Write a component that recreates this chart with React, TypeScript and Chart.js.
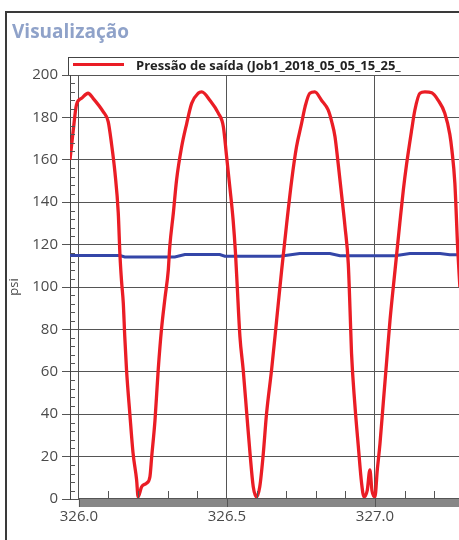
import React, { useEffect, useRef } from "react";
import { Chart, registerables } from "chart.js";

Chart.register(...registerables);

// ---- Data ----
const pressureX = [
  325.970, 325.981, 325.992, 326.009, 326.031, 326.048, 326.082, 326.099, 326.110, 326.122,
  326.133, 326.139, 326.144, 326.150, 326.155, 326.161, 326.172, 326.183, 326.195, 326.200,
  326.212, 326.229, 326.240, 326.246, 326.257, 326.268, 326.279, 326.291, 326.302, 326.307,
  326.319, 326.330, 326.347, 326.364, 326.381, 326.403, 326.415, 326.443, 326.471, 326.488,
  326.499, 326.510, 326.521, 326.529, 326.535, 326.544, 326.555, 326.567, 326.578, 326.589,
  326.600, 326.611, 326.622, 326.634, 326.651, 326.668, 326.685, 326.702, 326.719, 326.735,
  326.752, 326.764, 326.780, 326.797, 326.820, 326.842, 326.854, 326.865, 326.876, 326.887,
  326.899, 326.910, 326.916, 326.921, 326.932, 326.944, 326.955, 326.963, 326.974, 326.983,
  326.990, 327.000, 327.008, 327.017, 327.028, 327.040, 327.051, 327.068, 327.084, 327.096,
  327.107, 327.124, 327.135, 327.152, 327.169, 327.192, 327.214, 327.236, 327.253, 327.260,
  327.270, 327.280, 327.287,
];
const pressureY = [
  160, 174, 186, 189, 191.4, 189, 182.7, 178, 167.8, 153.8,
  135, 114.3, 103, 92.4, 76.6, 60.8, 40.4, 21.6, 9, 1,
  5.8, 7.5, 10.5, 20, 37, 61, 80, 95, 108, 119,
  134.8, 150.5, 166, 177, 186.6, 191.4, 192, 188, 182, 175.6,
  161.5, 147, 131.6, 116, 100, 76.6, 61, 40.4, 21.6, 5.8,
  1, 5.8, 20, 40.4, 61, 84.4, 108, 130, 150.5, 166,
  177, 185, 191.4, 192, 188, 183.5, 178, 171, 158, 144,
  128.4, 111, 89, 68.7, 45, 24.7, 7.4, 1, 4, 13.7,
  4, 1, 13.7, 26, 45, 65.6, 84.4, 108, 130, 145.8,
  158, 174, 183.5, 191.4, 192, 191.6, 188, 182, 172, 164.6,
  149, 117, 100,
];
const flowX = [
  325.970, 326.139, 326.155, 326.324, 326.358, 326.476, 326.493, 326.679, 326.746, 326.848,
  326.882, 327.068, 327.118, 327.220, 327.253, 327.287,
];
const flowY = [
  114.8, 114.8, 114.2, 114.2, 115.3, 115.3, 114.5, 114.5, 115.8, 115.8,
  114.7, 114.7, 115.8, 115.8, 115.2, 115.2,
];
const xTickValues = [326.0, 326.1, 326.2, 326.3, 326.4, 326.5, 326.6, 326.7, 326.8, 326.9, 327.0, 327.1, 327.2];
const yTickValues = Array.from({ length: 51 }, (_, i) => i * 4);
const legendLabel = "Pressão de saída (Job1_2018_05_05_15_25_";
const titleText = "Visualização";
const yTitle = "psi";

const isMajorX = (v: number) => Math.abs(v * 2 - Math.round(v * 2)) < 1e-6;
const isMajorY = (v: number) => Math.round(v) % 20 === 0;

const decoPlugin = {
  id: "deco",
  afterDatasetsDraw(chart: any) {
    const { ctx, chartArea, scales } = chart;
    const xs = scales.x;
    const ys = scales.y;
    ctx.save();
    const x0 = xs.getPixelForValue(326.0);
    ctx.fillStyle = "#878787";
    ctx.fillRect(x0, chartArea.bottom - 1, chartArea.right - x0, 9);
    ctx.strokeStyle = "#555";
    ctx.lineWidth = 1;
    ctx.beginPath();
    ctx.moveTo(x0, chartArea.bottom - 0.5);
    ctx.lineTo(chartArea.right, chartArea.bottom - 0.5);
    ctx.stroke();
    xTickValues.forEach((v) => {
      const px = Math.round(xs.getPixelForValue(v)) + 0.5;
      ctx.beginPath();
      if (isMajorX(v)) {
        ctx.moveTo(px, chartArea.bottom - 1);
        ctx.lineTo(px, chartArea.bottom + 8);
      } else {
        ctx.moveTo(px, chartArea.bottom - 8);
        ctx.lineTo(px, chartArea.bottom - 1);
      }
      ctx.stroke();
    });
    yTickValues.forEach((v) => {
      if (isMajorY(v)) return;
      const py = Math.round(ys.getPixelForValue(v)) + 0.5;
      ctx.beginPath();
      ctx.moveTo(chartArea.left, py);
      ctx.lineTo(chartArea.left + 5, py);
      ctx.stroke();
    });
    ctx.restore();
  },
};

export default function App() {
  const ref = useRef<HTMLCanvasElement | null>(null);
  useEffect(() => {
    if (!ref.current) return;
    const tickFont = { family: "'Open Sans', sans-serif", size: 15 };
    const chart = new Chart(ref.current, {
      type: "line",
      data: {
        datasets: [
          {
            label: legendLabel,
            data: pressureX.map((x, i) => ({ x, y: pressureY[i] })),
            borderColor: "#ea1d25",
            borderWidth: 3.3,
            pointRadius: 0,
            cubicInterpolationMode: "monotone",
          },
          {
            label: "flow",
            data: flowX.map((x, i) => ({ x, y: flowY[i] })),
            borderColor: "#3446a8",
            borderWidth: 3,
            pointRadius: 0,
            tension: 0,
          },
        ],
      },
      options: {
        animation: false,
        responsive: false,
        maintainAspectRatio: false,
        layout: { padding: { top: 75, left: 2, right: 0, bottom: 0 } },
        plugins: { legend: { display: false }, tooltip: { enabled: false } },
        scales: {
          x: {
            type: "linear",
            min: 325.97,
            max: 327.284,
            afterBuildTicks: (s: any) => {
              s.ticks = xTickValues.map((v) => ({ value: v }));
            },
            afterFit: (s: any) => {
              s.height = 41;
            },
            ticks: {
              autoSkip: false,
              maxRotation: 0,
              padding: 9,
              font: tickFont,
              color: "#4a4a4a",
              callback: (v: any) => (isMajorX(Number(v)) ? Number(v).toFixed(1) : ""),
            },
            grid: {
              drawTicks: false,
              lineWidth: 1,
              color: (c: any) => (c.tick && isMajorX(c.tick.value) ? "#555" : "rgba(0,0,0,0)"),
            },
            border: { display: false },
          },
          y: {
            type: "linear",
            min: 0,
            max: 200,
            afterBuildTicks: (s: any) => {
              s.ticks = yTickValues.map((v) => ({ value: v }));
            },
            afterFit: (s: any) => {
              s.width = 68;
            },
            title: {
              display: true,
              text: yTitle,
              color: "#4a4a4a",
              font: { family: "'Open Sans', sans-serif", size: 13 },
            },
            ticks: {
              autoSkip: false,
              padding: 4,
              font: tickFont,
              color: "#4a4a4a",
              callback: (v: any) => (isMajorY(Number(v)) ? String(v) : ""),
            },
            grid: {
              lineWidth: 1,
              tickLength: 8,
              color: (c: any) => (c.tick && isMajorY(c.tick.value) ? "#555" : "rgba(0,0,0,0)"),
              tickColor: (c: any) => (c.tick && isMajorY(c.tick.value) ? "#555" : "rgba(0,0,0,0)"),
            },
            border: { display: true, color: "#444", width: 1 },
          },
        },
      },
      plugins: [decoPlugin],
    } as any);
    return () => chart.destroy();
  }, []);

  return (
    <div style={{ position: "absolute", left: 0, top: 0, width: 459, height: 540, background: "#fff", overflow: "hidden" }}>
      <canvas ref={ref} width={459} height={540} style={{ position: "absolute", left: 0, top: 0 }} />
      <div style={{ position: "absolute", left: 5, top: 11, width: 470, height: 540, borderLeft: "2px solid #3a3a3a", borderTop: "2px solid #3a3a3a", pointerEvents: "none" }} />
      <div style={{ position: "absolute", left: 12, top: 19, fontFamily: "'Open Sans', sans-serif", fontWeight: 700, fontSize: 19, lineHeight: "24px", color: "#8fa2c9", whiteSpace: "nowrap" }}>
        {titleText}
      </div>
      <div style={{ position: "absolute", left: 68, top: 57, width: 420, height: 17, border: "1px solid #444", borderBottom: "none", background: "#fff" }}>
        <div style={{ position: "absolute", left: 4, top: 5, width: 51, height: 3, background: "#ea1d25" }} />
        <div style={{ position: "absolute", left: 67, top: -1, fontFamily: "'Open Sans', sans-serif", fontWeight: 700, fontSize: 13, lineHeight: "17px", color: "#222", whiteSpace: "nowrap" }}>
          {legendLabel}
        </div>
      </div>
    </div>
  );
}
